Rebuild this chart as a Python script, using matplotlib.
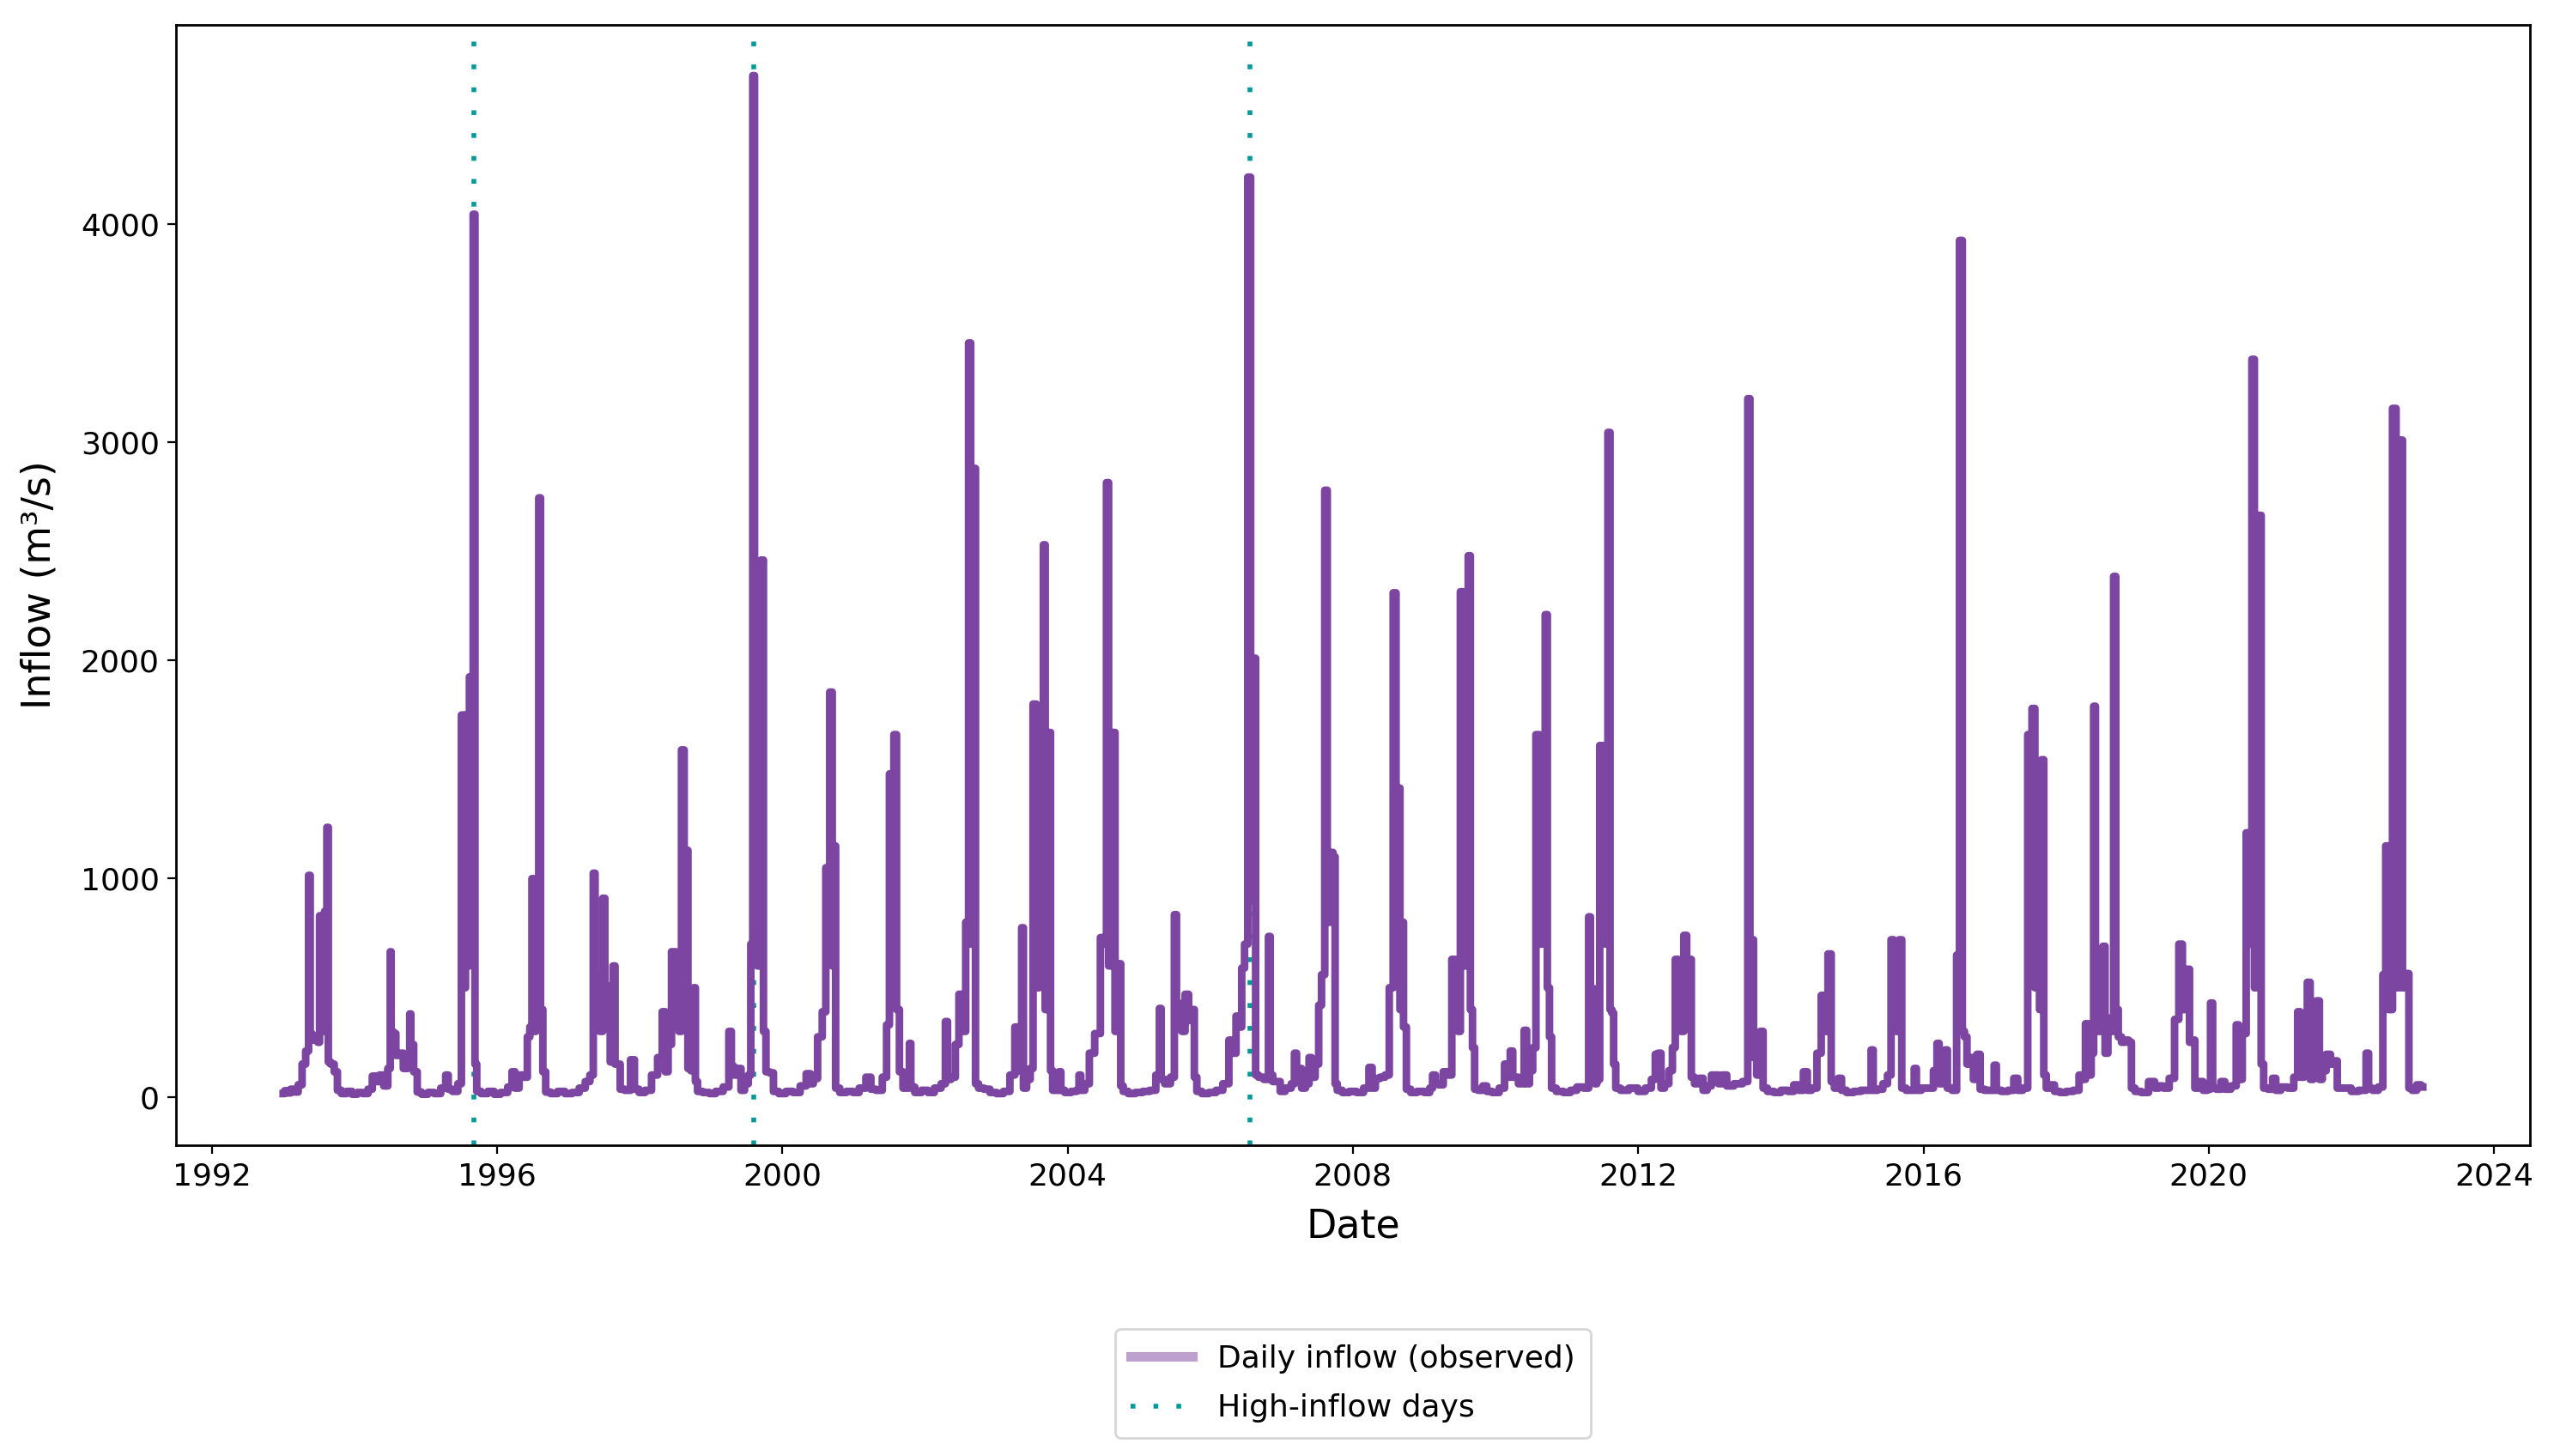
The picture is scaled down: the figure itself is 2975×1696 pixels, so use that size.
import matplotlib
matplotlib.use('Agg')
import matplotlib.pyplot as plt
import pandas as pd
from matplotlib.lines import Line2D

# Observed daily inflow as (decimal year, m3/s) points
inflow_1990s = [
    (1993.000, 15), (1993.040, 28), (1993.080, 18), (1993.130, 35), (1993.180, 22),
    (1993.240, 55), (1993.290, 150), (1993.340, 210), (1993.372, 1015), (1993.385, 290),
    (1993.420, 260), (1993.470, 280), (1993.500, 250), (1993.520, 830), (1993.560, 300),
    (1993.600, 850), (1993.625, 1235), (1993.640, 160), (1993.690, 150), (1993.740, 115),
    (1993.780, 30), (1993.850, 15), (1993.930, 25), (1994.000, 12), (1994.080, 20),
    (1994.150, 15), (1994.230, 35), (1994.270, 95), (1994.320, 70), (1994.380, 100),
    (1994.440, 50), (1994.495, 130), (1994.508, 665), (1994.520, 300), (1994.560, 290),
    (1994.600, 190), (1994.650, 200), (1994.720, 130), (1994.770, 150), (1994.780, 380),
    (1994.800, 240), (1994.860, 115), (1994.900, 22), (1994.980, 12), (1995.080, 20),
    (1995.160, 15), (1995.260, 40), (1995.300, 100), (1995.330, 35), (1995.420, 25),
    (1995.480, 60), (1995.520, 1750), (1995.545, 500), (1995.570, 1750), (1995.600, 600),
    (1995.625, 1925), (1995.650, 700), (1995.680, 4045), (1995.700, 150), (1995.730, 25),
    (1995.820, 15), (1995.920, 25), (1996.000, 12), (1996.100, 20), (1996.200, 45),
    (1996.220, 115), (1996.280, 40), (1996.340, 100), (1996.410, 90), (1996.440, 275),
    (1996.480, 320), (1996.500, 1000), (1996.520, 300), (1996.570, 330), (1996.600, 2745),
    (1996.620, 400), (1996.665, 115), (1996.700, 22), (1996.800, 15), (1996.900, 25),
    (1997.000, 15), (1997.100, 20), (1997.200, 40), (1997.270, 70), (1997.330, 100),
    (1997.365, 1025), (1997.380, 560), (1997.420, 480), (1997.460, 300), (1997.500, 910),
    (1997.520, 510), (1997.560, 350), (1997.610, 160), (1997.640, 600), (1997.665, 150),
    (1997.710, 150), (1997.740, 35), (1997.840, 30), (1997.900, 170), (1997.950, 35),
    (1998.030, 20), (1998.120, 30), (1998.210, 100), (1998.290, 180), (1998.340, 390),
    (1998.375, 115), (1998.420, 240), (1998.470, 665), (1998.540, 660), (1998.560, 300),
    (1998.610, 1590), (1998.635, 600), (1998.660, 1130), (1998.690, 130), (1998.740, 120),
    (1998.770, 500), (1998.790, 70), (1998.830, 25), (1998.930, 20), (1999.020, 15),
    (1999.110, 25), (1999.230, 45), (1999.270, 300), (1999.300, 140), (1999.340, 100),
    (1999.400, 130), (1999.440, 30), (1999.500, 60), (1999.545, 100), (1999.570, 700),
    (1999.600, 4680), (1999.620, 800), (1999.680, 600), (1999.720, 2460), (1999.750, 300),
    (1999.790, 115), (1999.850, 110), (1999.900, 25),
]

inflow_2000s = [
    (2000.000, 15), (2000.100, 25), (2000.200, 20), (2000.300, 50), (2000.370, 106),
    (2000.420, 60), (2000.450, 84), (2000.540, 275), (2000.580, 390), (2000.640, 1050),
    (2000.690, 1855), (2000.710, 600), (2000.735, 1150), (2000.760, 40), (2000.850, 20),
    (2000.950, 25), (2001.030, 20), (2001.120, 40), (2001.220, 90), (2001.260, 35),
    (2001.360, 30), (2001.440, 90), (2001.480, 330), (2001.520, 1480), (2001.545, 500),
    (2001.580, 1660), (2001.620, 400), (2001.660, 115), (2001.720, 40), (2001.770, 40),
    (2001.790, 245), (2001.810, 45), (2001.900, 20), (2002.000, 30), (2002.080, 20),
    (2002.180, 40), (2002.270, 60), (2002.300, 345), (2002.330, 80), (2002.400, 90),
    (2002.450, 240), (2002.500, 470), (2002.540, 300), (2002.600, 800), (2002.620, 3455),
    (2002.660, 700), (2002.695, 2880), (2002.720, 60), (2002.780, 40), (2002.870, 35),
    (2002.950, 20), (2003.050, 15), (2003.150, 25), (2003.230, 100), (2003.290, 320),
    (2003.340, 120), (2003.370, 775), (2003.390, 40), (2003.460, 80), (2003.490, 130),
    (2003.540, 1800), (2003.580, 500), (2003.620, 1790), (2003.650, 600), (2003.670, 2530),
    (2003.700, 400), (2003.750, 1670), (2003.770, 120), (2003.810, 30), (2003.870, 30),
    (2003.890, 115), (2003.920, 30), (2004.000, 20), (2004.100, 25), (2004.150, 30),
    (2004.170, 100), (2004.200, 30), (2004.280, 60), (2004.330, 200), (2004.430, 290),
    (2004.490, 730), (2004.530, 700), (2004.560, 2815), (2004.590, 600), (2004.650, 1670),
    (2004.680, 300), (2004.730, 610), (2004.760, 50), (2004.800, 25), (2004.900, 15),
    (2005.000, 20), (2005.100, 25), (2005.200, 30), (2005.270, 100), (2005.300, 405),
    (2005.320, 80), (2005.400, 60), (2005.480, 90), (2005.510, 835), (2005.540, 430),
    (2005.580, 390), (2005.620, 300), (2005.670, 470), (2005.720, 350), (2005.760, 400),
    (2005.790, 90), (2005.830, 25), (2005.930, 15), (2006.030, 20), (2006.130, 30),
    (2006.220, 60), (2006.300, 260), (2006.340, 200), (2006.380, 370), (2006.420, 320),
    (2006.460, 590), (2006.500, 700), (2006.550, 4215), (2006.580, 900), (2006.620, 2010),
    (2006.650, 100), (2006.700, 90), (2006.800, 80), (2006.830, 735), (2006.850, 100),
    (2006.900, 70), (2006.960, 70), (2007.000, 25), (2007.100, 40), (2007.170, 60),
    (2007.190, 200), (2007.230, 80), (2007.260, 130), (2007.300, 40), (2007.370, 60),
    (2007.400, 180), (2007.440, 90), (2007.500, 150), (2007.540, 420), (2007.580, 560),
    (2007.630, 2780), (2007.650, 800), (2007.700, 1120), (2007.740, 1100), (2007.760, 60),
    (2007.800, 30), (2007.900, 20), (2008.000, 25), (2008.100, 20), (2008.200, 40),
    (2008.250, 135), (2008.290, 40), (2008.340, 84), (2008.420, 90), (2008.480, 100),
    (2008.540, 500), (2008.590, 2310), (2008.620, 600), (2008.650, 1415), (2008.670, 400),
    (2008.690, 800), (2008.730, 320), (2008.770, 35), (2008.850, 20), (2008.950, 25),
    (2009.050, 20), (2009.100, 40), (2009.130, 100), (2009.180, 60), (2009.220, 55),
    (2009.310, 115), (2009.360, 100), (2009.410, 630), (2009.450, 620), (2009.490, 300),
    (2009.520, 2315), (2009.560, 600), (2009.600, 2300), (2009.630, 2480), (2009.660, 400),
    (2009.690, 225), (2009.720, 35), (2009.790, 30), (2009.850, 50), (2009.900, 25),
]

inflow_2010s = [
    (2010.000, 20), (2010.100, 40), (2010.150, 150), (2010.190, 90), (2010.220, 210),
    (2010.260, 90), (2010.380, 60), (2010.420, 305), (2010.450, 60), (2010.500, 120),
    (2010.540, 225), (2010.590, 1660), (2010.640, 700), (2010.680, 900), (2010.710, 2210),
    (2010.740, 500), (2010.770, 275), (2010.800, 40), (2010.900, 25), (2011.000, 20),
    (2011.100, 30), (2011.180, 45), (2011.290, 40), (2011.320, 825), (2011.340, 300),
    (2011.380, 495), (2011.400, 60), (2011.440, 80), (2011.480, 1610), (2011.520, 800),
    (2011.560, 700), (2011.590, 3045), (2011.620, 400), (2011.640, 385), (2011.670, 150),
    (2011.700, 40), (2011.800, 30), (2011.940, 40), (2012.050, 25), (2012.150, 40),
    (2012.220, 80), (2012.260, 195), (2012.300, 200), (2012.340, 40), (2012.400, 60),
    (2012.460, 120), (2012.500, 226), (2012.540, 630), (2012.580, 550), (2012.620, 300),
    (2012.660, 740), (2012.700, 400), (2012.730, 630), (2012.760, 90), (2012.820, 60),
    (2012.890, 85), (2012.930, 30), (2013.000, 50), (2013.050, 100), (2013.100, 100),
    (2013.150, 60), (2013.200, 100), (2013.280, 50), (2013.400, 60), (2013.520, 70),
    (2013.550, 3200), (2013.580, 400), (2013.600, 720), (2013.630, 180), (2013.690, 100),
    (2013.730, 300), (2013.770, 40), (2013.850, 25), (2013.950, 20), (2014.050, 30),
    (2014.150, 25), (2014.210, 55), (2014.280, 30), (2014.350, 115), (2014.390, 30),
    (2014.470, 40), (2014.540, 200), (2014.590, 465), (2014.630, 300), (2014.690, 655),
    (2014.720, 70), (2014.780, 40), (2014.830, 85), (2014.870, 30), (2014.970, 20),
    (2015.070, 25), (2015.170, 30), (2015.250, 30), (2015.280, 215), (2015.310, 30),
    (2015.400, 35), (2015.460, 60), (2015.530, 100), (2015.560, 720), (2015.600, 400),
    (2015.640, 300), (2015.680, 720), (2015.710, 40), (2015.800, 30), (2015.860, 30),
    (2015.880, 130), (2015.920, 30), (2016.020, 40), (2016.100, 40), (2016.180, 120),
    (2016.200, 245), (2016.240, 60), (2016.290, 90), (2016.320, 215), (2016.350, 40),
    (2016.450, 30), (2016.480, 650), (2016.530, 3925), (2016.560, 300), (2016.590, 275),
    (2016.630, 150), (2016.680, 180), (2016.720, 80), (2016.780, 195), (2016.810, 35),
    (2016.900, 30), (2016.980, 30), (2017.000, 145), (2017.040, 30), (2017.140, 25),
    (2017.230, 30), (2017.300, 85), (2017.340, 30), (2017.440, 40), (2017.480, 1660),
    (2017.500, 600), (2017.540, 1780), (2017.580, 500), (2017.610, 580), (2017.640, 400),
    (2017.670, 1545), (2017.700, 100), (2017.740, 40), (2017.800, 55), (2017.870, 25),
    (2017.950, 20), (2018.050, 25), (2018.150, 30), (2018.210, 100), (2018.250, 80),
    (2018.290, 335), (2018.330, 100), (2018.370, 200), (2018.400, 1790), (2018.420, 300),
    (2018.470, 545), (2018.500, 300), (2018.530, 690), (2018.560, 200), (2018.610, 360),
    (2018.650, 300), (2018.680, 2385), (2018.710, 400), (2018.750, 275), (2018.800, 250),
    (2018.850, 260), (2018.900, 250), (2018.930, 40), (2019.000, 25), (2019.100, 20),
    (2019.210, 70), (2019.270, 40), (2019.330, 50), (2019.400, 40), (2019.490, 85),
    (2019.550, 355), (2019.610, 700), (2019.650, 400), (2019.710, 585), (2019.750, 250),
    (2019.790, 260), (2019.820, 40), (2019.890, 70), (2019.950, 30),
]

inflow_2020s = [
    (2020.010, 35), (2020.040, 430), (2020.070, 40), (2020.140, 35), (2020.200, 70),
    (2020.250, 35), (2020.370, 50), (2020.400, 330), (2020.440, 80), (2020.500, 290),
    (2020.550, 1210), (2020.590, 700), (2020.620, 3380), (2020.660, 500), (2020.720, 2665),
    (2020.750, 150), (2020.790, 40), (2020.870, 35), (2020.920, 85), (2020.960, 30),
    (2021.060, 45), (2021.150, 40), (2021.230, 90), (2021.260, 390), (2021.300, 90),
    (2021.360, 100), (2021.400, 525), (2021.440, 80), (2021.490, 100), (2021.530, 440),
    (2021.570, 80), (2021.610, 120), (2021.680, 195), (2021.730, 150), (2021.780, 165),
    (2021.820, 40), (2021.940, 40), (2022.050, 25), (2022.150, 30), (2022.190, 30),
    (2022.220, 200), (2022.260, 40), (2022.330, 30), (2022.420, 45), (2022.460, 560),
    (2022.500, 1150), (2022.540, 400), (2022.610, 3155), (2022.640, 500), (2022.700, 3010),
    (2022.730, 500), (2022.790, 565), (2022.820, 40), (2022.880, 30), (2022.950, 55),
    (2023.000, 45),
]

# days flagged as high inflow (decimal year)
high_inflow_days = [1995.680, 1999.600, 2006.550]

LINE_COLOR = '#7B45A1'
HIGH_COLOR = '#009A9A'


def to_date(y: float) -> pd.Timestamp:
    """Decimal year -> timestamp."""
    year = int(y)
    return pd.Timestamp(year=year, month=1, day=1) + pd.Timedelta(days=(y - year) * 365.25)


def build_series() -> pd.Series:
    points = inflow_1990s + inflow_2000s + inflow_2010s + inflow_2020s
    idx = pd.DatetimeIndex([to_date(p[0]) for p in points])
    return pd.Series([p[1] for p in points], index=idx)


flow = build_series()

fig, ax = plt.subplots(figsize=(14.875, 8.48), dpi=200)
fig.subplots_adjust(left=0.069, right=0.9905, top=0.983, bottom=0.2135)

# daily record is dense, so rises and falls look like vertical steps
ax.plot(flow.index, flow.values, color=LINE_COLOR, lw=3.2,
        drawstyle='steps-mid', zorder=2)

for d in high_inflow_days:
    ax.axvline(to_date(d), color=HIGH_COLOR, lw=2, linestyle=(0, (1, 3.8)), zorder=1)

for s in ax.spines.values():
    s.set_linewidth(1.0)

ax.set_xlabel('Date', fontsize=16.5, labelpad=7)
ax.set_ylabel('Inflow (m³/s)', fontsize=16.5, labelpad=9)
ax.tick_params(labelsize=13)

handles = [
    Line2D([], [], color=LINE_COLOR, alpha=0.5, lw=4),
    Line2D([], [], color=HIGH_COLOR, lw=2, linestyle=(0, (1, 3.8))),
]
ax.legend(handles, ['Daily inflow (observed)', 'High-inflow days'],
          loc='upper center', bbox_to_anchor=(0.5, -0.15), fontsize=13,
          borderpad=0.5, labelspacing=0.65)

fig.savefig('out.png', dpi=200)
